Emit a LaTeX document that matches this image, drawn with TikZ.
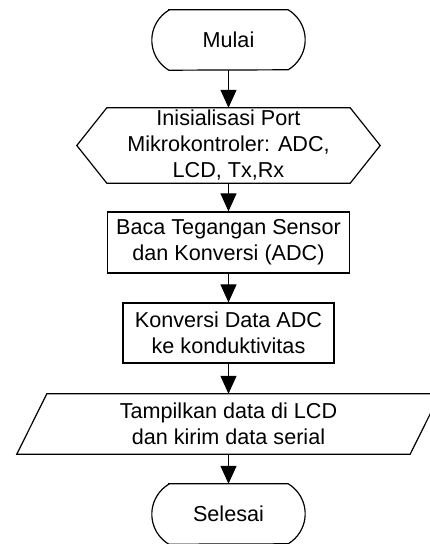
\documentclass[tikz,border=0pt]{standalone}
\usepackage{fontspec}
\setmainfont{Liberation Sans}
\usetikzlibrary{arrows.meta}
\begin{document}
\begin{tikzpicture}[x=1pt,y=1pt,
  blk/.style={rectangle,inner sep=0pt,align=center,font=\fontsize{21.6}{26}\selectfont},
  outl/.style={draw=black,line width=1.2pt,line join=miter},
  conn/.style={draw=black,line width=1.2pt,-{Triangle[length=18pt,width=16pt]}}]
\clip (0,0) rectangle (430,544);
% nodes
\node[blk,minimum width=153,minimum height=60] (start) at (228.5,504) {Mulai};
\node[blk,minimum width=303,minimum height=75] (init) at (228.5,398.5) {Inisialisasi Port\\Mikrokontroler: ADC,\\LCD, Tx,Rx};
\node[blk,outl,minimum width=242,minimum height=61] (read) at (228.5,301.5) {Baca Tegangan Sensor\\dan Konversi (ADC)};
\node[blk,outl,minimum width=211,minimum height=60] (conv) at (228.5,211) {Konversi Data ADC\\ke konduktivitas};
\node[blk,minimum width=423,minimum height=60] (out) at (228.5,120) {Tampilkan data di LCD\\dan kirim data serial};
\node[blk,minimum width=153,minimum height=60] (stop) at (228.5,30) {Selesai};
% outlines
\foreach \n in {start,stop}{
  \draw[outl] ([xshift=17]\n.north west) -- ([xshift=-17]\n.north east)
    arc[start angle=59,end angle=-59,radius=35]
    -- ([xshift=17]\n.south west)
    arc[start angle=239,end angle=121,radius=35] -- cycle;
}
\draw[outl] (init.west) -- ([xshift=30]init.north west) -- ([xshift=-30]init.north east)
  -- (init.east) -- ([xshift=-30]init.south east) -- ([xshift=30]init.south west) -- cycle;
\draw[outl] ([xshift=30]out.north west) -- (out.north east) -- ([xshift=-30]out.south east)
  -- (out.south west) -- cycle;
% connectors
\draw[conn] (start.south) -- (init.north);
\draw[conn] (init.south) -- (read.north);
\draw[conn] (read.south) -- (conv.north);
\draw[conn] (conv.south) -- (out.north);
\draw[conn] (out.south) -- (stop.north);
\end{tikzpicture}
\end{document}
